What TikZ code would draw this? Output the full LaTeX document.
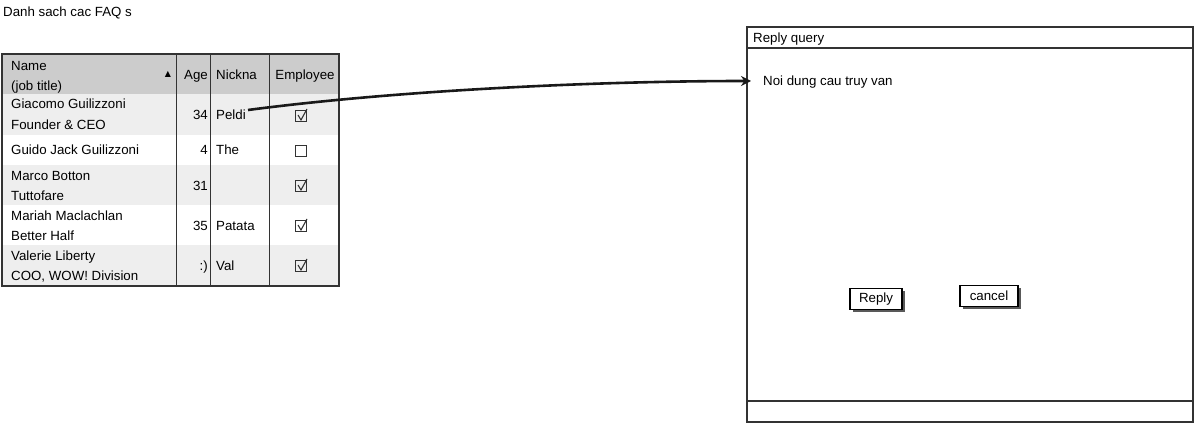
\documentclass[tikz,border=0pt]{standalone}
\usepackage{fontspec}
\setmainfont{Liberation Sans}
\newfontfamily\symfont{DejaVu Sans}
\usetikzlibrary{shadows,arrows.meta}
\definecolor{hdr}{HTML}{CCCCCC}
\definecolor{alt}{HTML}{EEEEEE}
\definecolor{ink}{HTML}{333333}
\tikzset{
  txt/.style={anchor=west,inner sep=0pt,font=\fontsize{13.3}{15}\selectfont,text height=10pt,text depth=0pt},
  rtxt/.style={txt,anchor=east},
  ctxt/.style={txt,anchor=center},
  frame/.style={draw=ink,line width=1.4pt},
  colline/.style={draw=ink,line width=1.8pt},
  chk/.style={draw=ink,line width=1.1pt,minimum size=11pt,inner sep=0pt},
  tick/.style={draw=ink,line width=1.1pt},
  btn/.style={draw=black,line width=1.2pt,fill=white,minimum height=21pt,inner sep=0pt,
    font=\fontsize{13.3}{15}\selectfont,
    drop shadow={shadow xshift=2.5pt,shadow yshift=-2.5pt,fill=black!65,opacity=1}},
  link/.style={line width=2.6pt,draw=black!90,-{Stealth[length=10pt,width=10pt]}}
}
\begin{document}
\begin{tikzpicture}[x=1pt,y=-1pt]
\useasboundingbox (0,0) rectangle (1196,425);
% title
\node[txt] (title) at (3,12) {Danh sach cac FAQ s};
% table backgrounds
\fill[hdr] (2,54) rectangle (339,94);
\fill[alt] (2,94) rectangle (339,135);
\fill[white] (2,135) rectangle (339,165);
\fill[alt] (2,165) rectangle (339,205);
\fill[white] (2,205) rectangle (339,245);
\fill[alt] (2,245) rectangle (339,286);
% column lines
\draw[colline] (176.5,54) -- (176.5,286);
\draw[colline] (210.5,54) -- (210.5,286);
\draw[colline] (269.5,54) -- (269.5,286);
\draw[frame] (2,54) rectangle (339,286);
% header
\node[txt] (hname) at (11,66) {Name};
\node[txt] (hjob) at (11,86) {(job title)};
\node[inner sep=0pt,font=\symfont\fontsize{8}{8}\selectfont] (sortarrow) at (168,74) {▲};
\node[rtxt] (hage) at (208,75) {Age};
\node[txt] (hnick) at (216,75) {Nickna};
\node[ctxt] (hemp) at (305,75) {Employee};
% row 1
\node[txt] (n1a) at (11,104) {Giacomo Guilizzoni};
\node[txt] (n1b) at (11,125) {Founder \& CEO};
\node[rtxt] (a1) at (208,115) {34};
\node[txt] (k1) at (216,115) {Peldi};
\node[chk] (c1) at (301,116) {};
% row 2
\node[txt] (n2a) at (11,149) {Guido Jack Guilizzoni};
\node[rtxt] (a2) at (208,149) {4};
\node[txt] (k2) at (216,149) {The};
\node[chk] (c2) at (301,151) {};
% row 3
\node[txt] (n3a) at (11,175) {Marco Botton};
\node[txt] (n3b) at (11,195) {Tuttofare};
\node[rtxt] (a3) at (208,185) {31};
\node[chk] (c3) at (301,186) {};
% row 4
\node[txt] (n4a) at (11,215) {Mariah Maclachlan};
\node[txt] (n4b) at (11,235) {Better Half};
\node[rtxt] (a4) at (208,225) {35};
\node[txt] (k4) at (216,225) {Patata};
\node[chk] (c4) at (301,226) {};
% row 5
\node[txt] (n5a) at (11,255) {Valerie Liberty};
\node[txt] (n5b) at (11,275) {COO, WOW! Division};
\node[rtxt] (a5) at (208,265) {:)};
\node[txt] (k5) at (216,265) {Val};
\node[chk] (c5) at (301,266) {};
% ticks
\foreach \c in {c1,c3,c4,c5}{
  \draw[tick] ([shift={(-3,-1)}]\c.center) -- ([shift={(0,4)}]\c.center) -- ([shift={(6,-7)}]\c.center);
}
% dialog
\draw[frame,fill=white] (747,27) rectangle (1193,422);
\draw[frame] (747,27) rectangle (1193,48);
\draw[frame] (747,401) rectangle (1193,422);
\node[txt] (dtitle) at (753,38) {Reply query};
\node[txt] (query) at (763,81) {Noi dung cau truy van};
\node[btn,minimum width=52pt] (reply) at (876,299) {Reply};
\node[btn,minimum width=58pt] (cancel) at (989,296) {cancel};
% connector
\coordinate (from) at (248,110);
\coordinate (to) at ([shift={(-12,0)}]query.west);
\draw[link] (from) .. controls (400,90) and (600,81) .. (to);
\end{tikzpicture}
\end{document}
